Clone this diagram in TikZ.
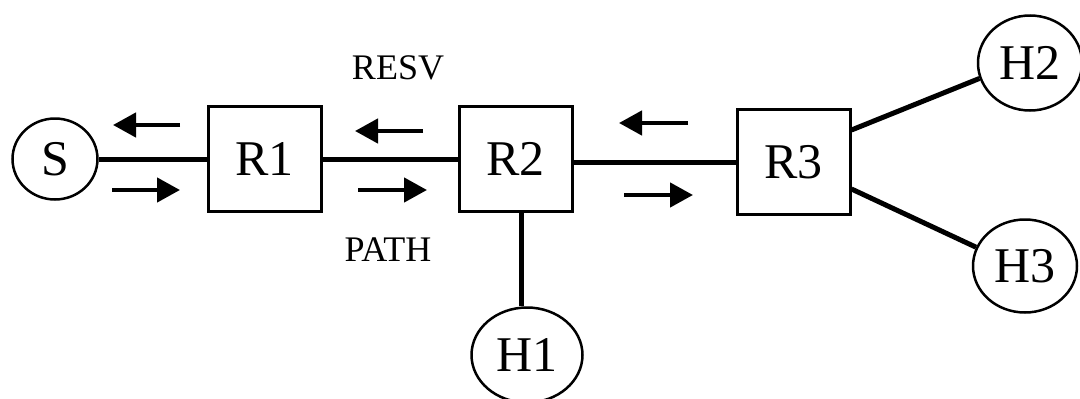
\documentclass[tikz,border=0pt]{standalone}
\usepackage{fontspec}
\setmainfont{Liberation Serif}
\usetikzlibrary{shapes.geometric, arrows.meta}

\tikzset{
    router/.style={draw, rectangle, line width=3pt, minimum width=113pt, minimum height=105pt, inner sep=0pt, font=\fontsize{50}{50}\selectfont},
    host/.style={draw, ellipse, line width=2.5pt, inner sep=0pt, font=\fontsize{50}{50}\selectfont},
    link/.style={line width=5pt},
    msg/.style={line width=4.5pt, -{Triangle[length=23pt, width=24pt]}},
    msglabel/.style={font=\fontsize{36}{36}\selectfont}
}

\begin{document}
\begin{tikzpicture}[x=1pt, y=-1pt]
    \useasboundingbox (0,0) rectangle (1080,399);

    \node[host, minimum width=85pt, minimum height=81pt] (s) at (55,159) {S};
    \node[router] (r1) at (264.5,159) {R1};
    \node[router] (r2) at (515.5,159) {R2};
    \node[router] (r3) at (793.5,162) {R3};
    \node[host, minimum width=111pt, minimum height=95pt] (h1) at (527,355) {H1};
    \node[host, minimum width=104pt, minimum height=95pt] (h2) at (1030,63) {H2};
    \node[host, minimum width=104pt, minimum height=93pt] (h3) at (1025,266) {H3};

    \node[msglabel] (resv) at (398,68) {RESV};
    \node[msglabel] (path) at (388,250) {PATH};

    % links
    \draw[link] (s) -- (r1);
    \draw[link] (r1) -- (r2);
    \draw[link] (r2.east |- r3.west) -- (r3.west);
    \draw[link] ([xshift=6pt]r2.south) -- ([xshift=6pt]r2.south |- h1.north);
    \draw[link] ([yshift=32pt]r3.east) -- (h2.197);
    \draw[link] ([yshift=-27pt]r3.east) -- (h3.159);

    % message arrows
    \coordinate (resv_a) at (180,125);
    \coordinate (resv_b) at (423,131);
    \coordinate (resv_c) at (688,123);
    \coordinate (path_a) at (112,190);
    \coordinate (path_b) at (358,190);
    \coordinate (path_c) at (624,195);
    \draw[msg] (resv_a) -- ++(-67,0);
    \draw[msg] (resv_b) -- ++(-68,0);
    \draw[msg] (resv_c) -- ++(-69,0);
    \draw[msg] (path_a) -- ++(68,0);
    \draw[msg] (path_b) -- ++(69,0);
    \draw[msg] (path_c) -- ++(69,0);
\end{tikzpicture}
\end{document}
